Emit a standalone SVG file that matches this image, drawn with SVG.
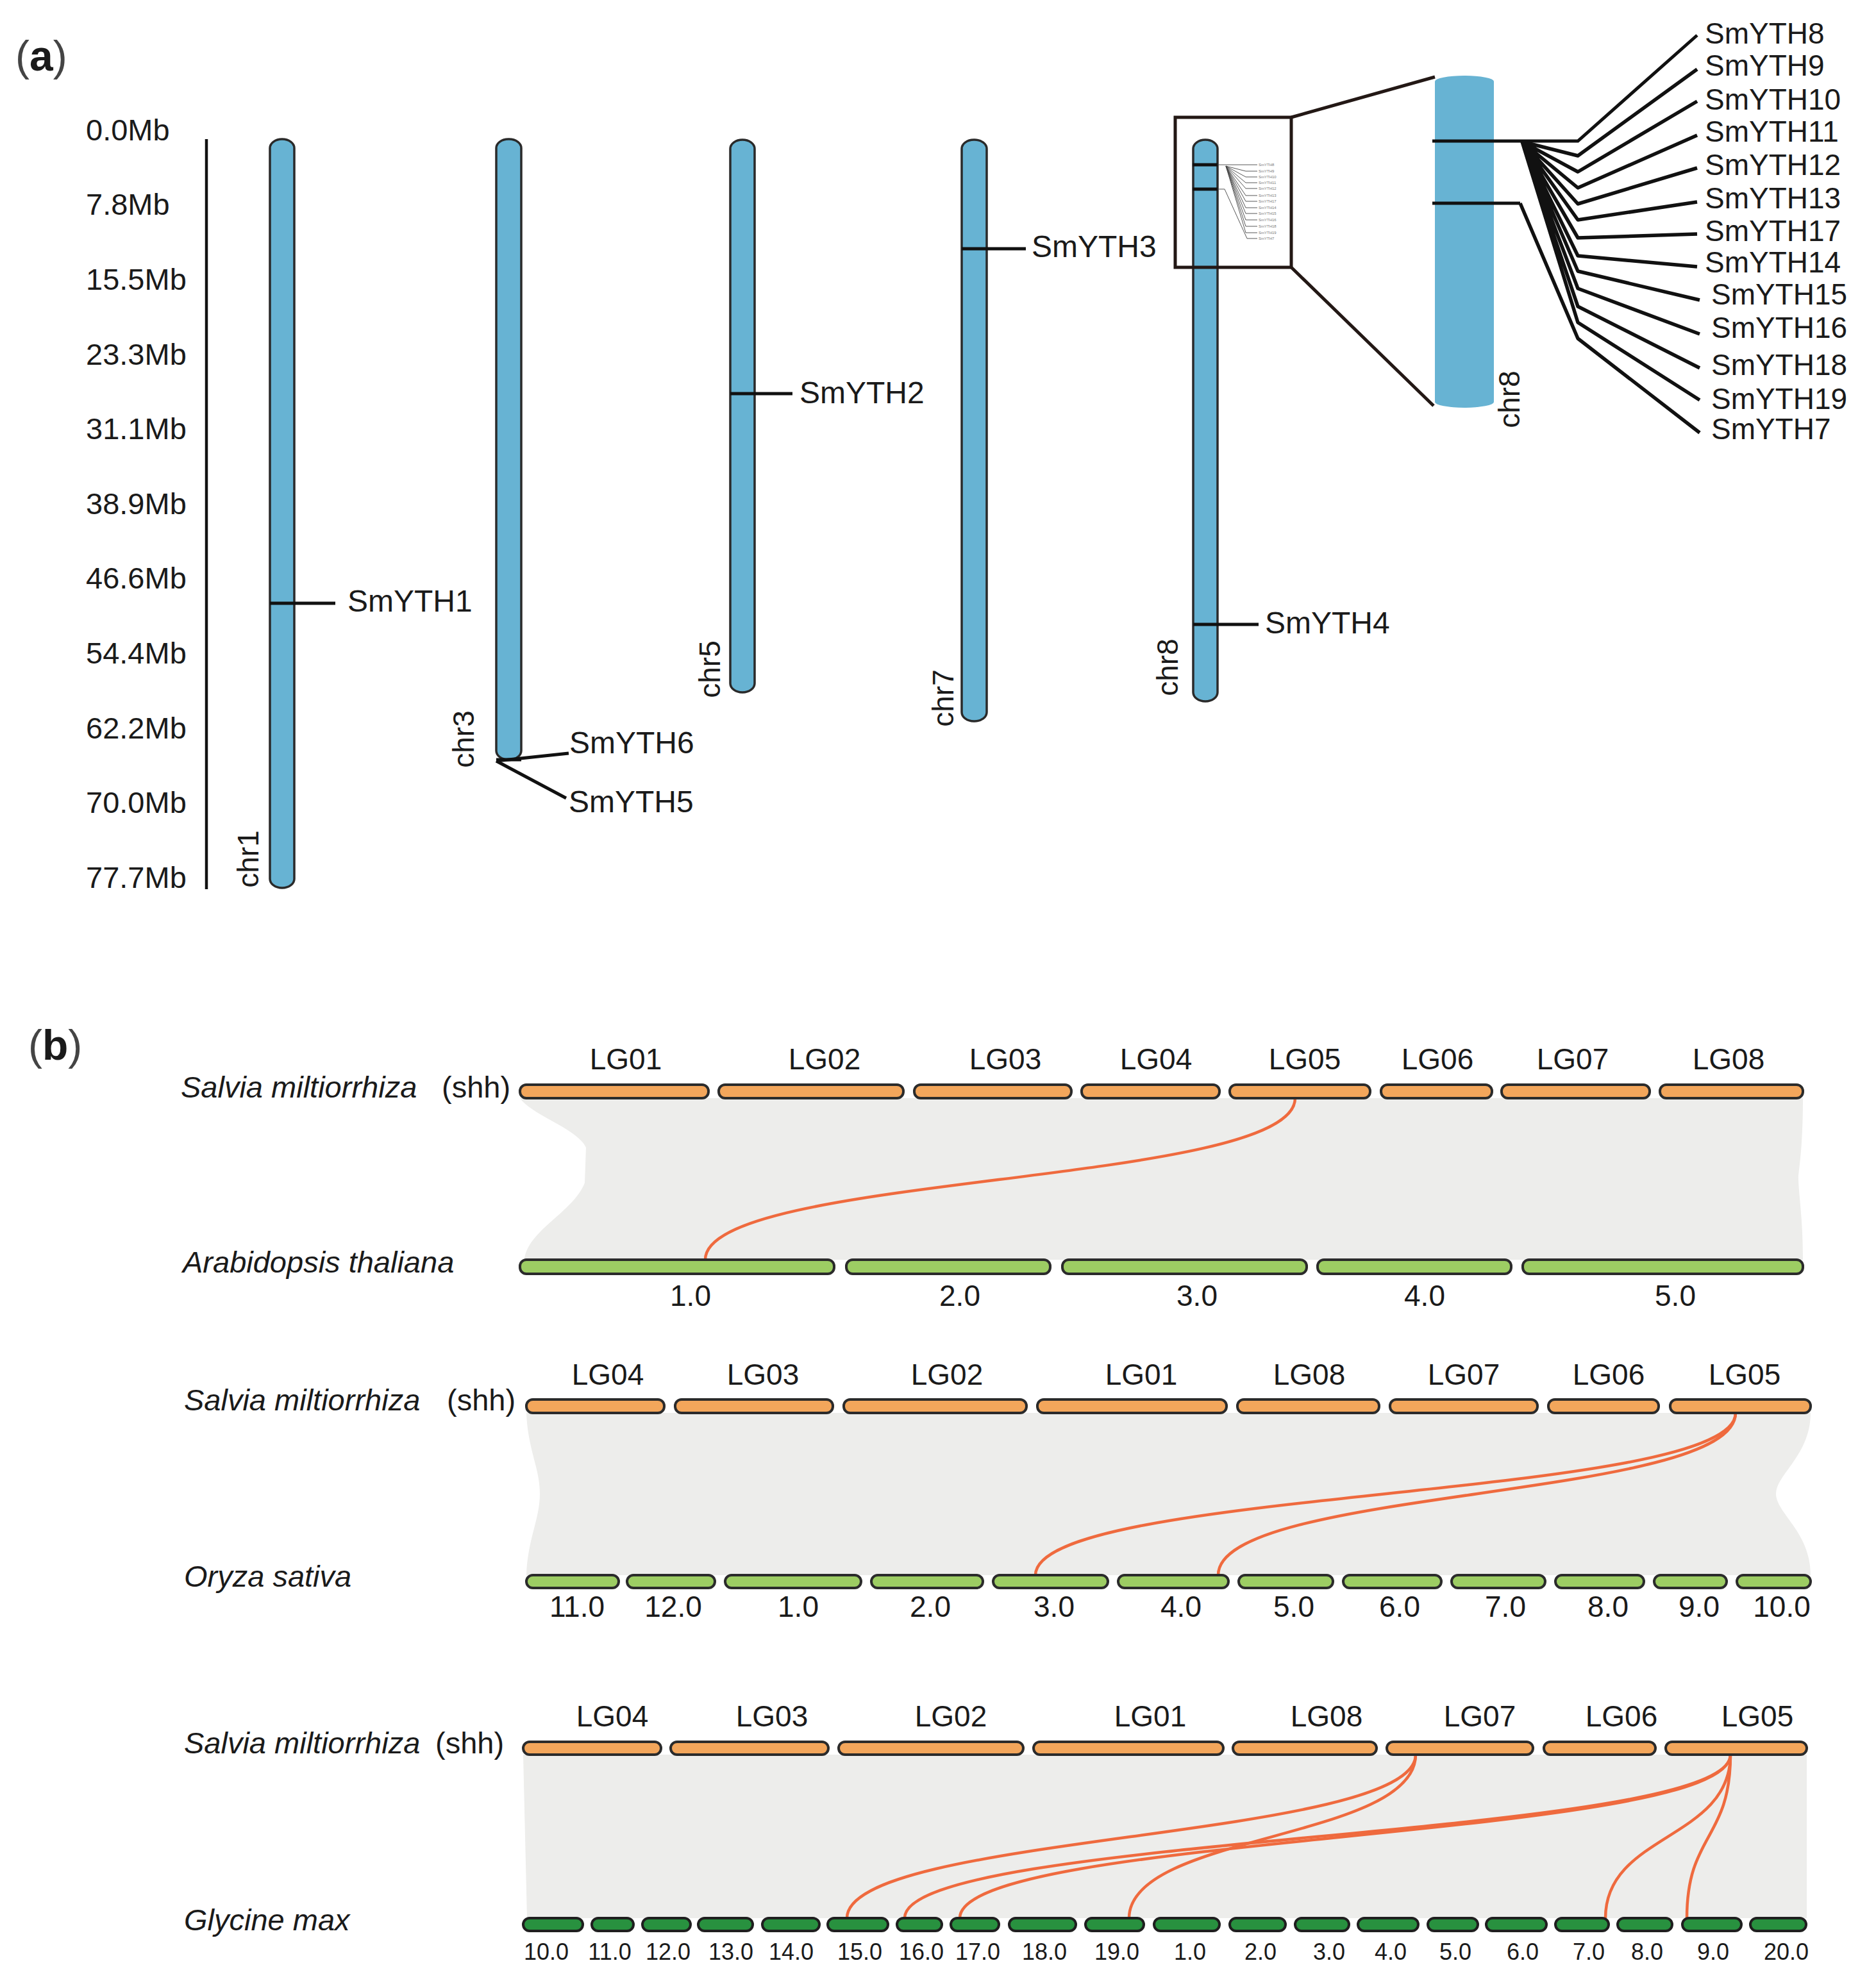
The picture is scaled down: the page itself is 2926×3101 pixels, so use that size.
<svg xmlns="http://www.w3.org/2000/svg" width="2926" height="3101" viewBox="0 0 2926 3101">
<style>
text{font-family:"Liberation Sans",Arial,sans-serif;fill:#1a1a1a}
.ax{font-size:47px}
.gl{font-size:48px}
.chr{font-size:46px}
.fan{font-size:46px}
.tiny{font-size:6px;fill:#777}
.pl{font-size:66px}
.plb{font-weight:bold}
.plp{fill:#444}
.cb{fill:#67b3d3;stroke:#2a2a2a;stroke-width:3.5}
.cbig{fill:#67b3d3}
.mk{stroke:#111;stroke-width:5;fill:none}
.ln{stroke:#111;stroke-width:5;fill:none}
.fl{stroke:#111;stroke-width:5.5;fill:none;stroke-linejoin:round}
.tl{stroke:#444;stroke-width:0.9;fill:none}
.box{stroke:#231815;stroke-width:5;fill:none}
.or rect{fill:#f3a65b;stroke:#2b2b2b;stroke-width:4}
.lgr rect{fill:#9dcd63;stroke:#2b2b2b;stroke-width:4}
.dgr rect{fill:#28913f;stroke:#1f1f1f;stroke-width:4}
.syn{fill:#ededeb}
.red{stroke:#ef6a3e;stroke-width:4.5;fill:none}
.lab{font-size:46px;text-anchor:middle}
.num3{font-size:36px;text-anchor:middle}
.sp{font-size:47px}
.it{font-style:italic}
</style>

<!-- ============ Panel (a) ============ -->
<g id="label-a" class="pl"><text x="24" y="110"><tspan class="plp">(</tspan><tspan class="plb">a</tspan><tspan class="plp">)</tspan></text></g>

<g id="axis">
<line x1="322" y1="217" x2="322" y2="1387" stroke="#111" stroke-width="4.5"/>
<text class="ax" x="134" y="219">0.0Mb</text>
<text class="ax" x="134" y="335">7.8Mb</text>
<text class="ax" x="134" y="452">15.5Mb</text>
<text class="ax" x="134" y="569">23.3Mb</text>
<text class="ax" x="134" y="685">31.1Mb</text>
<text class="ax" x="134" y="802">38.9Mb</text>
<text class="ax" x="134" y="918">46.6Mb</text>
<text class="ax" x="134" y="1035">54.4Mb</text>
<text class="ax" x="134" y="1152">62.2Mb</text>
<text class="ax" x="134" y="1268">70.0Mb</text>
<text class="ax" x="134" y="1385">77.7Mb</text>
</g>

<g id="chr1">
<rect class="cb" x="421" y="217" width="38" height="1168" rx="19" ry="14"/>
<text class="chr" transform="translate(403,1340) rotate(-90)" text-anchor="middle">chr1</text>
</g>
<g id="chr3">
<rect class="cb" x="774" y="217" width="39" height="968" rx="19" ry="14"/>
<text class="chr" transform="translate(739,1153) rotate(-90)" text-anchor="middle">chr3</text>
</g>
<g id="chr5">
<rect class="cb" x="1139" y="218" width="38" height="862" rx="19" ry="14"/>
<text class="chr" transform="translate(1123,1044) rotate(-90)" text-anchor="middle">chr5</text>
</g>
<g id="chr7">
<rect class="cb" x="1500" y="218" width="39" height="907" rx="19" ry="14"/>
<text class="chr" transform="translate(1487,1089) rotate(-90)" text-anchor="middle">chr7</text>
</g>
<g id="chr8">
<rect class="cb" x="1861" y="218" width="38" height="876" rx="19" ry="14"/>
<text class="chr" transform="translate(1837,1041) rotate(-90)" text-anchor="middle">chr8</text>
</g>
<g id="chr8-zoom">
<rect class="cbig" x="2238" y="118" width="92" height="518" rx="46" ry="9"/>
<text class="chr" transform="translate(2370,623) rotate(-90)" text-anchor="middle">chr8</text>
</g>

<g id="gene-labels-a">
<text class="gl" x="542" y="954">SmYTH1</text>
<text class="gl" x="1247" y="629">SmYTH2</text>
<text class="gl" x="1609" y="401">SmYTH3</text>
<text class="gl" x="1973" y="988">SmYTH4</text>
<text class="gl" x="888" y="1175">SmYTH6</text>
<text class="gl" x="887" y="1267">SmYTH5</text>
</g>

<g id="fan-labels">
<text class="fan" x="2659" y="68">SmYTH8</text>
<text class="fan" x="2659" y="118">SmYTH9</text>
<text class="fan" x="2659" y="171">SmYTH10</text>
<text class="fan" x="2659" y="221">SmYTH11</text>
<text class="fan" x="2659" y="273">SmYTH12</text>
<text class="fan" x="2659" y="325">SmYTH13</text>
<text class="fan" x="2659" y="376">SmYTH17</text>
<text class="fan" x="2659" y="425">SmYTH14</text>
<text class="fan" x="2669" y="475">SmYTH15</text>
<text class="fan" x="2669" y="527">SmYTH16</text>
<text class="fan" x="2669" y="585">SmYTH18</text>
<text class="fan" x="2669" y="638">SmYTH19</text>
<text class="fan" x="2669" y="685">SmYTH7</text>
</g>

<g id="tiny-labels">
<text class="tiny" x="1963" y="259">SmYTH8</text>
<text class="tiny" x="1963" y="269">SmYTH9</text>
<text class="tiny" x="1963" y="278">SmYTH10</text>
<text class="tiny" x="1963" y="287">SmYTH11</text>
<text class="tiny" x="1963" y="296">SmYTH12</text>
<text class="tiny" x="1963" y="307">SmYTH13</text>
<text class="tiny" x="1963" y="316">SmYTH17</text>
<text class="tiny" x="1963" y="326">SmYTH14</text>
<text class="tiny" x="1963" y="335">SmYTH15</text>
<text class="tiny" x="1963" y="345">SmYTH16</text>
<text class="tiny" x="1963" y="355">SmYTH18</text>
<text class="tiny" x="1963" y="365">SmYTH19</text>
<text class="tiny" x="1963" y="374">SmYTH7</text>
</g>

<g id="connectors-a">
<path class="ln" d="M421,941 H523"/>
<path class="ln" d="M1139,614 H1236"/>
<path class="ln" d="M1500,388 H1600"/>
<path class="ln" d="M1861,974 H1963"/>
<path class="mk" stroke-width="7" d="M774,1185 H813"/>
<path class="ln" d="M774,1187 L887,1175"/>
<path class="ln" d="M774,1187 L883,1245"/>
<path class="mk" stroke-width="5" d="M1860,257 H1899"/>
<path class="mk" stroke-width="4" d="M1860,295 H1899"/>
<path class="tl" d="M1899,257 H1961"/>
<path class="tl" d="M1912,259 L1943,267 H1961 M1912,259 L1943,276 H1961 M1912,259 L1943,285 H1961 M1912,259 L1943,294 H1961 M1912,259 L1943,305 H1961 M1912,259 L1943,314 H1961 M1912,259 L1943,324 H1961 M1912,259 L1943,333 H1961 M1912,259 L1943,343 H1961 M1912,259 L1943,353 H1961 M1912,259 L1943,363 H1961"/>
<path class="tl" d="M1899,295 H1910 L1945,372 H1961"/>
<rect class="box" x="1833" y="183" width="181" height="234"/>
<path class="box" d="M2014,183 L2238,120 M2014,417 L2236,633"/>
<path class="mk" stroke-width="10" d="M2234,220 H2461 L2647,55"/>
<path class="mk" stroke-width="6" d="M2234,317 H2371"/>
<path class="fl" d="M2371,317 L2461,528 L2651,675"/>
<path class="fl" d="M2374,221 L2461,243 L2647,108 M2374,221 L2461,268 L2647,158 M2374,221 L2461,293 L2647,211 M2374,221 L2461,318 L2647,262 M2374,221 L2461,343 L2647,315 M2374,221 L2461,371 L2647,365 M2374,221 L2461,399 L2647,416 M2374,221 L2461,423 L2651,468 M2374,221 L2461,450 L2651,521 M2374,221 L2461,478 L2651,574 M2374,221 L2461,503 L2651,624"/>
</g>

<!-- ============ Panel (b) ============ -->
<g id="label-b" class="pl"><text x="44" y="1653"><tspan class="plp">(</tspan><tspan class="plb">b</tspan><tspan class="plp">)</tspan></text></g>

<g id="synteny-bands">
<path class="syn" d="M811,1713 H2812 C2812,1800 2804,1830 2805,1840 C2806,1870 2812,1900 2812,1965 H818 C822,1920 895,1890 912,1845 L914,1790 C900,1760 830,1740 811,1713 Z"/>
<path class="syn" d="M821,2204 H2824 C2824,2270 2770,2300 2770,2330 C2770,2360 2824,2390 2824,2457 H821 C823,2400 842,2370 842,2330 C842,2290 823,2260 821,2204 Z"/>
<path class="syn" d="M816,2737 H2818 L2818,2992 H822 Z"/>
</g>

<g id="connectors-b">
<path class="red" d="M2020,1713 C2020,1850 1100,1830 1100,1965"/>
<path class="red" d="M2707,2204 C2707,2340 1615,2320 1615,2457"/>
<path class="red" d="M2707,2204 C2707,2340 1900,2320 1900,2457"/>
<path class="red" d="M2208,2737 C2208,2870 1321,2860 1321,2992"/>
<path class="red" d="M2208,2737 C2208,2870 1761,2860 1761,2992"/>
<path class="red" d="M2699,2737 C2699,2870 1411,2860 1411,2992"/>
<path class="red" d="M2699,2737 C2699,2870 1497,2860 1497,2992"/>
<path class="red" d="M2699,2737 C2699,2870 2504,2860 2504,2992"/>
<path class="red" d="M2699,2737 C2699,2870 2631,2860 2631,2992"/>
</g>

<g id="row1-salvia" class="or">
<rect x="811" y="1692" width="294" height="21" rx="10"/>
<rect x="1121" y="1692" width="288" height="21" rx="10"/>
<rect x="1426" y="1692" width="245" height="21" rx="10"/>
<rect x="1687" y="1692" width="215" height="21" rx="10"/>
<rect x="1918" y="1692" width="219" height="21" rx="10"/>
<rect x="2154" y="1692" width="173" height="21" rx="10"/>
<rect x="2342" y="1692" width="231" height="21" rx="10"/>
<rect x="2589" y="1692" width="223" height="21" rx="10"/>
</g>
<g id="row1-arabidopsis" class="lgr">
<rect x="811" y="1965" width="490" height="22" rx="10"/>
<rect x="1320" y="1965" width="318" height="22" rx="10"/>
<rect x="1657" y="1965" width="381" height="22" rx="10"/>
<rect x="2055" y="1965" width="302" height="22" rx="10"/>
<rect x="2375" y="1965" width="437" height="22" rx="10"/>
</g>
<g id="row1-labels">
<text class="sp" x="282" y="1712"><tspan class="it">Salvia miltiorrhiza</tspan><tspan x="689">(shh)</tspan></text>
<text class="sp it" x="285" y="1985">Arabidopsis thaliana</text>
<text class="lab" x="976" y="1668">LG01</text>
<text class="lab" x="1286" y="1668">LG02</text>
<text class="lab" x="1568" y="1668">LG03</text>
<text class="lab" x="1803" y="1668">LG04</text>
<text class="lab" x="2035" y="1668">LG05</text>
<text class="lab" x="2242" y="1668">LG06</text>
<text class="lab" x="2453" y="1668">LG07</text>
<text class="lab" x="2696" y="1668">LG08</text>
<text class="lab" x="1077" y="2037">1.0</text>
<text class="lab" x="1497" y="2037">2.0</text>
<text class="lab" x="1867" y="2037">3.0</text>
<text class="lab" x="2222" y="2037">4.0</text>
<text class="lab" x="2613" y="2037">5.0</text>
</g>

<g id="row2-salvia" class="or">
<rect x="821" y="2183" width="215" height="21" rx="10"/>
<rect x="1053" y="2183" width="246" height="21" rx="10"/>
<rect x="1316" y="2183" width="285" height="21" rx="10"/>
<rect x="1618" y="2183" width="295" height="21" rx="10"/>
<rect x="1930" y="2183" width="221" height="21" rx="10"/>
<rect x="2168" y="2183" width="230" height="21" rx="10"/>
<rect x="2415" y="2183" width="172" height="21" rx="10"/>
<rect x="2605" y="2183" width="219" height="21" rx="10"/>
</g>
<g id="row2-oryza" class="lgr">
<rect x="821" y="2457" width="144" height="20" rx="10"/>
<rect x="978" y="2457" width="137" height="20" rx="10"/>
<rect x="1131" y="2457" width="212" height="20" rx="10"/>
<rect x="1359" y="2457" width="174" height="20" rx="10"/>
<rect x="1549" y="2457" width="179" height="20" rx="10"/>
<rect x="1744" y="2457" width="172" height="20" rx="10"/>
<rect x="1932" y="2457" width="147" height="20" rx="10"/>
<rect x="2095" y="2457" width="153" height="20" rx="10"/>
<rect x="2264" y="2457" width="146" height="20" rx="10"/>
<rect x="2426" y="2457" width="138" height="20" rx="10"/>
<rect x="2580" y="2457" width="113" height="20" rx="10"/>
<rect x="2709" y="2457" width="115" height="20" rx="10"/>
</g>
<g id="row2-labels">
<text class="sp" x="287" y="2200"><tspan class="it">Salvia miltiorrhiza</tspan><tspan x="697">(shh)</tspan></text>
<text class="sp it" x="287" y="2475">Oryza sativa</text>
<text class="lab" x="948" y="2160">LG04</text>
<text class="lab" x="1190" y="2160">LG03</text>
<text class="lab" x="1477" y="2160">LG02</text>
<text class="lab" x="1780" y="2160">LG01</text>
<text class="lab" x="2042" y="2160">LG08</text>
<text class="lab" x="2283" y="2160">LG07</text>
<text class="lab" x="2509" y="2160">LG06</text>
<text class="lab" x="2721" y="2160">LG05</text>
<text class="lab" x="900" y="2522">11.0</text>
<text class="lab" x="1050" y="2522">12.0</text>
<text class="lab" x="1245" y="2522">1.0</text>
<text class="lab" x="1451" y="2522">2.0</text>
<text class="lab" x="1644" y="2522">3.0</text>
<text class="lab" x="1842" y="2522">4.0</text>
<text class="lab" x="2018" y="2522">5.0</text>
<text class="lab" x="2183" y="2522">6.0</text>
<text class="lab" x="2348" y="2522">7.0</text>
<text class="lab" x="2508" y="2522">8.0</text>
<text class="lab" x="2650" y="2522">9.0</text>
<text class="lab" x="2779" y="2522">10.0</text>
</g>

<g id="row3-salvia" class="or">
<rect x="816" y="2717" width="215" height="20" rx="10"/>
<rect x="1046" y="2717" width="246" height="20" rx="10"/>
<rect x="1308" y="2717" width="288" height="20" rx="10"/>
<rect x="1612" y="2717" width="296" height="20" rx="10"/>
<rect x="1923" y="2717" width="224" height="20" rx="10"/>
<rect x="2163" y="2717" width="228" height="20" rx="10"/>
<rect x="2408" y="2717" width="174" height="20" rx="10"/>
<rect x="2598" y="2717" width="220" height="20" rx="10"/>
</g>
<g id="row3-glycine" class="dgr">
<rect x="816" y="2992" width="93" height="20" rx="10"/>
<rect x="923" y="2992" width="65" height="20" rx="10"/>
<rect x="1002" y="2992" width="75" height="20" rx="10"/>
<rect x="1089" y="2992" width="85" height="20" rx="10"/>
<rect x="1189" y="2992" width="89" height="20" rx="10"/>
<rect x="1291" y="2992" width="94" height="20" rx="10"/>
<rect x="1399" y="2992" width="70" height="20" rx="10"/>
<rect x="1483" y="2992" width="75" height="20" rx="10"/>
<rect x="1574" y="2992" width="104" height="20" rx="10"/>
<rect x="1693" y="2992" width="91" height="20" rx="10"/>
<rect x="1800" y="2992" width="102" height="20" rx="10"/>
<rect x="1918" y="2992" width="87" height="20" rx="10"/>
<rect x="2020" y="2992" width="84" height="20" rx="10"/>
<rect x="2118" y="2992" width="94" height="20" rx="10"/>
<rect x="2227" y="2992" width="78" height="20" rx="10"/>
<rect x="2318" y="2992" width="94" height="20" rx="10"/>
<rect x="2426" y="2992" width="83" height="20" rx="10"/>
<rect x="2523" y="2992" width="85" height="20" rx="10"/>
<rect x="2624" y="2992" width="92" height="20" rx="10"/>
<rect x="2730" y="2992" width="87" height="20" rx="10"/>
</g>
<g id="row3-labels">
<text class="sp" x="287" y="2735"><tspan class="it">Salvia miltiorrhiza</tspan><tspan x="679">(shh)</tspan></text>
<text class="sp it" x="287" y="3011">Glycine max</text>
<text class="lab" x="955" y="2693">LG04</text>
<text class="lab" x="1204" y="2693">LG03</text>
<text class="lab" x="1483" y="2693">LG02</text>
<text class="lab" x="1794" y="2693">LG01</text>
<text class="lab" x="2069" y="2693">LG08</text>
<text class="lab" x="2308" y="2693">LG07</text>
<text class="lab" x="2529" y="2693">LG06</text>
<text class="lab" x="2741" y="2693">LG05</text>
<text class="num3" x="852" y="3057">10.0</text>
<text class="num3" x="951" y="3057">11.0</text>
<text class="num3" x="1042" y="3057">12.0</text>
<text class="num3" x="1140" y="3057">13.0</text>
<text class="num3" x="1234" y="3057">14.0</text>
<text class="num3" x="1341" y="3057">15.0</text>
<text class="num3" x="1437" y="3057">16.0</text>
<text class="num3" x="1525" y="3057">17.0</text>
<text class="num3" x="1629" y="3057">18.0</text>
<text class="num3" x="1742" y="3057">19.0</text>
<text class="num3" x="1856" y="3057">1.0</text>
<text class="num3" x="1966" y="3057">2.0</text>
<text class="num3" x="2073" y="3057">3.0</text>
<text class="num3" x="2169" y="3057">4.0</text>
<text class="num3" x="2270" y="3057">5.0</text>
<text class="num3" x="2375" y="3057">6.0</text>
<text class="num3" x="2478" y="3057">7.0</text>
<text class="num3" x="2569" y="3057">8.0</text>
<text class="num3" x="2672" y="3057">9.0</text>
<text class="num3" x="2786" y="3057">20.0</text>
</g>
</svg>
